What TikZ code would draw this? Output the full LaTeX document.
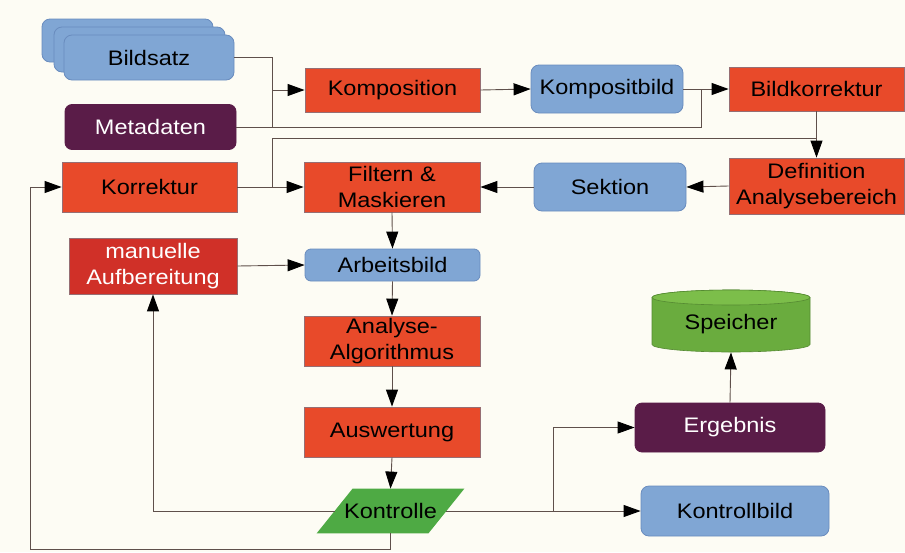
\documentclass[tikz,border=0pt]{standalone}
\usepackage{fontspec}
\setmainfont{Liberation Sans}[FakeStretch=1.12]
\usetikzlibrary{arrows.meta}
\definecolor{bgcol}{RGB}{253,252,244}
\definecolor{myred}{RGB}{232,74,42}
\definecolor{mydarkred}{RGB}{208,48,40}
\definecolor{myblue}{RGB}{128,166,212}
\definecolor{mypurple}{RGB}{90,28,72}
\definecolor{mygreen}{RGB}{78,170,68}
\definecolor{cylgreen}{RGB}{106,172,62}
\definecolor{cyltop}{RGB}{124,190,74}
\definecolor{redline}{RGB}{150,110,115}
\definecolor{blueline}{RGB}{105,140,190}
\definecolor{linecol}{RGB}{95,80,75}
\pgfdeclarelayer{bg}
\pgfdeclarelayer{shapes}
\pgfsetlayers{bg,shapes,main}
\tikzset{
  box/.style={inner sep=0pt, align=center, font=\fontsize{21}{26}\selectfont, line width=0.8pt},
  redbox/.style={box, draw=redline, fill=myred},
  mredbox/.style={box, draw=redline, fill=mydarkred, text=white},
  bluebox/.style={box, draw=blueline, fill=myblue, rounded corners=8pt},
  purplebox/.style={box, draw=mypurple, fill=mypurple, rounded corners=7pt, text=white},
  ghost/.style={box},
  conn/.style={draw=linecol, line width=0.9pt},
  arr/.style={conn, -{Triangle[length=17pt,width=12pt,color=black]}},
}
\begin{document}
\begin{tikzpicture}[x=1pt,y=-1pt]
\useasboundingbox (0,0) rectangle (905,552);
\begin{pgfonlayer}{bg}
\fill[bgcol] (0,0) rectangle (905,552);
\end{pgfonlayer}

% Bildsatz stack
\begin{pgfonlayer}{shapes}
\filldraw[fill=myblue, draw=blueline, line width=0.8pt, rounded corners=8pt] (42,19) rectangle (213,62);
\filldraw[fill=myblue, draw=blueline, line width=0.8pt, rounded corners=8pt] (54,27) rectangle (225,72);
\end{pgfonlayer}
\node[bluebox, minimum width=170, minimum height=45] (bildsatz) at (149,57.5) {Bildsatz};
\node[purplebox, minimum width=171, minimum height=45] (metadaten) at (150.5,127) {Metadaten};

\node[redbox, minimum width=175, minimum height=44] (komposition) at (392.5,90) {Komposition};
\node[bluebox, minimum width=152, minimum height=48] (kompositbild) at (607,89) {Kompositbild};
\node[redbox, minimum width=175, minimum height=44] (bildkorrektur) at (816.5,89) {Bildkorrektur};

\node[redbox, minimum width=175, minimum height=50] (korrektur) at (149.5,187) {Korrektur};
\node[redbox, minimum width=176, minimum height=50] (filtern) at (392,187) {Filtern \&\\Maskieren};
\node[bluebox, minimum width=152, minimum height=48] (sektion) at (610,187) {Sektion};
\node[redbox, minimum width=175, minimum height=56] (definition) at (816.5,186) {Definition\\Analysebereich};

\node[mredbox, minimum width=168, minimum height=56] (manuelle) at (153,266) {manuelle\\Aufbereitung};
\node[bluebox, minimum width=175, minimum height=32, rounded corners=6pt] (arbeitsbild) at (392.5,265) {Arbeitsbild};
\node[redbox, minimum width=176, minimum height=50] (analyse) at (392,341) {Analyse-\\Algorithmus};
\node[redbox, minimum width=176, minimum height=50] (auswertung) at (392,432) {Auswertung};

% Kontrolle parallelogram
\node[ghost, minimum width=111, minimum height=44] (kontrolle) at (390.5,511) {Kontrolle};
\begin{pgfonlayer}{shapes}
\fill[mygreen] ([xshift=-18pt]kontrolle.south west) -- ([xshift=18pt]kontrolle.north west)
  -- ([xshift=18pt]kontrolle.north east) -- ([xshift=-18pt]kontrolle.south east) -- cycle;
\end{pgfonlayer}

\node[purplebox, minimum width=190, minimum height=49] (ergebnis) at (730,427.5) {Ergebnis};
\node[bluebox, minimum width=188, minimum height=50] (kontrollbild) at (735,511) {Kontrollbild};

% Speicher cylinder
\node[ghost, minimum width=158, minimum height=55] (speicher) at (731,324.5) {Speicher};
\begin{pgfonlayer}{shapes}
\filldraw[fill=cylgreen, draw=cylgreen!80!black, line width=0.6pt]
  (652,297.5) -- (652,344.5) arc[start angle=180, end angle=360, x radius=79, y radius=-7.5]
  -- (810,297.5) arc[start angle=0, end angle=180, x radius=79, y radius=-7.5] -- cycle;
\filldraw[fill=cyltop, draw=cylgreen!80!black, line width=0.6pt] (731,297.5) ellipse[x radius=79, y radius=7.5];
\end{pgfonlayer}

% junction coordinates
\coordinate (ja) at (272,90);
\coordinate (jb) at (701,89);
\coordinate (jc) at (272,187);
\coordinate (jd) at (816.5,138);
\coordinate (je) at (553,511);
\coordinate (lb) at (30,549);
\coordinate (lm) at (153,511);

% connectors
\draw[conn] (bildsatz.east) -| (ja |- metadaten.east);
\draw[arr] (ja) -- (komposition.west);
\draw[conn] (metadaten.east) -| (jb);
\draw[arr] (komposition.east) -- (kompositbild.west);
\draw[arr] (kompositbild.east) -- (bildkorrektur.west);
\draw[arr] (bildkorrektur.south) -- (definition.north);
\draw[arr] (korrektur.east) -- (filtern.west);
\draw[conn] (jc) |- (jd);
\draw[arr] (definition.west) -- (sektion.east);
\draw[arr] (sektion.west) -- (filtern.east);
\draw[arr] (filtern.south) -- (arbeitsbild.north);
\draw[arr] (manuelle.east) -- (arbeitsbild.west);
\draw[arr] (arbeitsbild.south) -- (analyse.north);
\draw[arr] (analyse.south) -- (auswertung.north);
\draw[arr] (auswertung.south) -- (kontrolle.north);
\draw[arr] (kontrolle.west) -- (lm) -- (manuelle.south);
\draw[arr] (kontrolle.south) |- (lb) |- (korrektur.west);
\draw[arr] (kontrolle.east) -- (kontrollbild.west);
\draw[arr] (je) |- (ergebnis.west);
\draw[arr] (ergebnis.north) -- (speicher.south);
\end{tikzpicture}
\end{document}
